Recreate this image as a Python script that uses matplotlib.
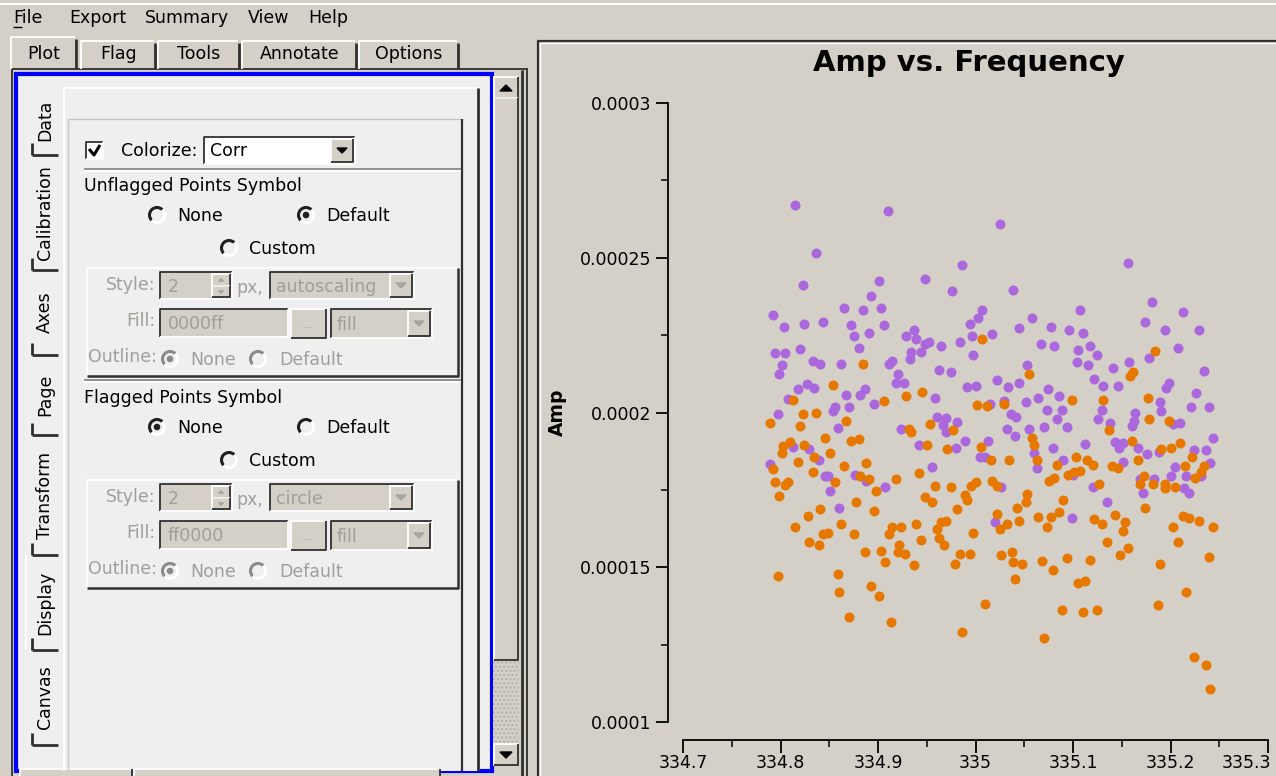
import numpy as np
import matplotlib
matplotlib.use('Agg')
import matplotlib.pyplot as plt
from matplotlib.patches import Rectangle, Arc, Polygon, Circle
from matplotlib.transforms import ScaledTranslation

W, H = 1276, 776

# correlation 1 (purple): frequency [GHz], amplitude [1e-4]
freq_c1 = [334.815, 334.910, 334.836, 334.823, 334.901, 334.893, 334.865, 334.885, 334.903, 334.792,
           334.804, 334.824, 334.844, 334.872, 334.906, 334.875, 334.891, 334.880, 334.794, 334.805,
           334.820, 334.802, 334.798, 334.833, 334.841, 334.862, 334.911, 334.827, 334.834, 334.818,
           334.808, 334.867, 334.882, 334.887, 334.896, 334.856, 334.854, 334.870, 334.797, 334.859,
           334.813, 334.829, 334.839, 334.789, 334.846, 334.849, 334.876, 334.888, 334.851, 334.907,
           334.860, 335.025, 334.986, 334.948, 334.976, 335.038, 335.007, 335.003, 334.994, 335.045,
           334.937, 334.929, 334.939, 334.996, 335.017, 334.952, 334.948, 334.965, 334.984, 334.934,
           334.944, 334.933, 334.914, 334.997, 334.963, 334.975, 334.920, 334.918, 334.927, 335.022,
           335.033, 334.991, 335.001, 335.045, 334.958, 335.015, 335.029, 335.036, 335.042, 334.960,
           334.970, 334.981, 334.967, 334.970, 334.924, 335.032, 335.041, 334.989, 335.013, 334.942,
           334.980, 335.005, 335.010, 334.955, 335.026, 335.020, 335.156, 335.181, 335.107, 335.058,
           335.077, 335.096, 335.110, 335.174, 335.067, 335.081, 335.105, 335.117, 335.125, 335.178,
           335.053, 335.104, 335.115, 335.141, 335.157, 335.122, 335.131, 335.146, 335.074, 335.064,
           335.086, 335.052, 335.073, 335.089, 335.130, 335.084, 335.126, 335.164, 335.163, 335.161,
           335.138, 335.055, 335.070, 335.094, 335.143, 335.151, 335.112, 335.079, 335.167, 335.060,
           335.063, 335.090, 335.100, 335.120, 335.135, 335.099, 335.147, 335.151, 335.176, 335.169,
           335.172, 335.213, 335.194, 335.229, 335.208, 335.234, 335.198, 335.195, 335.226, 335.189,
           335.190, 335.221, 335.239, 335.203, 335.210, 335.244, 335.224, 335.236, 335.188, 335.205,
           335.241, 335.183, 335.200, 335.216, 335.231, 335.214, 335.219]
amp_c1 = [2.669, 2.650, 2.516, 2.411, 2.426, 2.376, 2.338, 2.330, 2.338, 2.315,
          2.277, 2.287, 2.291, 2.283, 2.282, 2.248, 2.258, 2.209, 2.191, 2.191,
          2.205, 2.152, 2.124, 2.167, 2.157, 2.157, 2.157, 2.092, 2.080, 2.076,
          2.043, 2.057, 2.057, 2.076, 2.029, 2.017, 2.006, 2.018, 1.995, 1.951,
          1.890, 1.882, 1.846, 1.833, 1.794, 1.794, 1.799, 1.779, 1.746, 1.760,
          1.693, 2.608, 2.477, 2.430, 2.392, 2.397, 2.330, 2.306, 2.286, 2.273,
          2.266, 2.248, 2.237, 2.248, 2.253, 2.228, 2.221, 2.216, 2.229, 2.196,
          2.196, 2.172, 2.166, 2.187, 2.137, 2.130, 2.126, 2.094, 2.096, 2.104,
          2.084, 2.081, 2.086, 2.094, 2.047, 2.028, 2.038, 1.995, 1.984, 1.984,
          1.982, 1.970, 1.959, 1.937, 1.947, 1.947, 1.925, 1.909, 1.909, 1.895,
          1.885, 1.856, 1.856, 1.823, 1.760, 1.645, 2.483, 2.358, 2.330, 2.306,
          2.277, 2.267, 2.258, 2.291, 2.220, 2.216, 2.201, 2.216, 2.187, 2.176,
          2.152, 2.162, 2.152, 2.143, 2.162, 2.109, 2.086, 2.086, 2.076, 2.047,
          2.052, 2.033, 2.009, 2.009, 2.009, 1.980, 1.980, 2.000, 1.973, 1.956,
          1.967, 1.947, 1.952, 1.952, 1.906, 1.903, 1.898, 1.886, 1.886, 1.870,
          1.821, 1.846, 1.798, 1.760, 1.711, 1.659, 1.884, 1.841, 1.866, 1.784,
          1.741, 2.325, 2.266, 2.266, 2.210, 2.133, 2.096, 2.080, 2.062, 2.034,
          2.005, 2.017, 2.017, 1.962, 1.965, 1.918, 1.878, 1.878, 1.872, 1.823,
          1.836, 1.784, 1.794, 1.794, 1.794, 1.757, 1.741]

# correlation 2 (orange)
freq_c2 = [334.885, 334.854, 334.813, 334.906, 334.823, 334.836, 334.789, 334.820, 334.867, 334.846,
           334.810, 334.803, 334.824, 334.872, 334.880, 334.851, 334.802, 334.818, 334.834, 334.792,
           334.833, 334.865, 334.888, 334.882, 334.891, 334.856, 334.794, 334.805, 334.808, 334.898,
           334.798, 334.877, 334.841, 334.896, 334.828, 334.815, 334.862, 334.844, 334.849, 334.875,
           334.911, 334.914, 334.829, 334.839, 334.887, 334.903, 334.907, 334.797, 334.859, 334.860,
           334.893, 334.901, 334.870, 334.913, 335.007, 334.929, 334.945, 335.002, 335.012, 335.029,
           334.953, 334.932, 334.934, 334.977, 334.950, 334.971, 335.006, 335.016, 335.034, 334.942,
           334.918, 334.958, 334.975, 334.995, 335.001, 335.017, 335.022, 334.948, 334.955, 334.989,
           334.991, 334.981, 335.022, 335.043, 335.045, 334.939, 334.924, 334.960, 334.965, 334.970,
           334.997, 335.025, 335.032, 334.944, 334.963, 334.968, 334.922, 334.920, 334.928, 334.984,
           334.994, 335.026, 335.037, 335.038, 334.937, 334.979, 335.041, 335.010, 334.986, 335.055,
           335.158, 335.162, 335.099, 335.131, 335.177, 335.178, 335.137, 335.058, 335.060, 335.160,
           335.063, 335.103, 335.114, 335.120, 335.084, 335.140, 335.146, 335.167, 335.095, 335.101,
           335.107, 335.075, 335.081, 335.127, 335.173, 335.169, 335.053, 335.052, 335.090, 335.064,
           335.077, 335.086, 335.073, 335.122, 335.130, 335.143, 335.153, 335.151, 335.174, 335.135,
           335.156, 335.148, 335.048, 335.068, 335.094, 335.117, 335.079, 335.105, 335.112, 335.089,
           335.110, 335.125, 335.070, 335.184, 335.198, 335.210, 335.200, 335.190, 335.222, 335.215,
           335.234, 335.231, 335.225, 335.182, 335.194, 335.194, 335.205, 335.213, 335.219, 335.229,
           335.244, 335.203, 335.208, 335.239, 335.189, 335.216, 335.187, 335.224, 335.236, 335.241]
amp_c2 = [2.157, 2.090, 2.042, 2.038, 1.995, 2.000, 1.966, 1.956, 1.971, 1.918,
          1.905, 1.891, 1.895, 1.909, 1.913, 1.870, 1.870, 1.841, 1.857, 1.817,
          1.807, 1.827, 1.836, 1.794, 1.784, 1.774, 1.774, 1.765, 1.774, 1.746,
          1.731, 1.711, 1.688, 1.682, 1.664, 1.631, 1.639, 1.606, 1.611, 1.606,
          1.606, 1.631, 1.582, 1.572, 1.549, 1.553, 1.516, 1.472, 1.477, 1.420,
          1.439, 1.406, 1.339, 1.324, 2.238, 2.052, 2.067, 2.023, 2.022, 2.029,
          1.962, 1.947, 1.936, 1.942, 1.895, 1.882, 1.890, 1.846, 1.846, 1.803,
          1.784, 1.764, 1.760, 1.764, 1.774, 1.779, 1.764, 1.727, 1.711, 1.733,
          1.717, 1.688, 1.673, 1.692, 1.650, 1.639, 1.631, 1.625, 1.645, 1.649,
          1.611, 1.625, 1.640, 1.588, 1.593, 1.572, 1.572, 1.549, 1.543, 1.543,
          1.543, 1.539, 1.549, 1.516, 1.506, 1.510, 1.463, 1.382, 1.290, 2.124,
          2.119, 2.130, 2.042, 2.042, 2.047, 1.980, 1.945, 1.918, 1.894, 1.908,
          1.846, 1.856, 1.846, 1.831, 1.831, 1.827, 1.821, 1.846, 1.798, 1.808,
          1.812, 1.779, 1.789, 1.770, 1.794, 1.770, 1.736, 1.711, 1.717, 1.663,
          1.663, 1.678, 1.630, 1.655, 1.639, 1.668, 1.645, 1.616, 1.692, 1.582,
          1.563, 1.539, 1.510, 1.520, 1.529, 1.525, 1.491, 1.448, 1.457, 1.361,
          1.357, 1.361, 1.271, 2.199, 1.972, 1.903, 1.886, 1.882, 1.855, 1.827,
          1.827, 1.808, 1.789, 1.770, 1.770, 1.757, 1.760, 1.664, 1.658, 1.650,
          1.630, 1.630, 1.582, 1.534, 1.510, 1.420, 1.377, 1.209, 1.185, 1.108]

freq_ticks = [334.7, 334.8, 334.9, 335.0, 335.1, 335.2, 335.3]
freq_labels = ['334.7', '334.8', '334.9', '335', '335.1', '335.2', '335.3']
amp_ticks = [1e-4, 1.5e-4, 2e-4, 2.5e-4, 3e-4]
amp_labels = ['0.0001', '0.00015', '0.0002', '0.00025', '0.0003']

menu_items = [('File', 13), ('Export', 69), ('Summary', 145), ('View', 248), ('Help', 308)]
top_tabs = [('Plot', 10, 78), ('Flag', 80, 157), ('Tools', 157, 241), ('Annotate', 241, 358), ('Options', 358, 460)]
side_tabs = [('Data', 85, 155), ('Calibration', 155, 270), ('Axes', 270, 355), ('Page', 355, 435),
             ('Transform', 435, 555), ('Display', 555, 650), ('Canvas', 650, 745)]

BG = '#d4d0c8'
PANEL = '#efefef'
DARK = '#303030'
SHADE = '#8c8a85'
GREY_TXT = '#a09e9a'
PURPLE = '#ab68dc'
ORANGE = '#e67800'

plt.rcParams['font.family'] = 'DejaVu Sans'

fig = plt.figure(figsize=(W / 100, H / 100), dpi=100)
fig.patch.set_facecolor(BG)
gui = fig.add_axes([0, 0, 1, 1])
gui.set_xlim(0, W)
gui.set_ylim(H, 0)
gui.axis('off')


def box(x0, y0, x1, y1, fc='none', ec='none', lw=1.0, z=1, **kw):
    gui.add_patch(Rectangle((x0, y0), x1 - x0, y1 - y0, facecolor=fc,
                            edgecolor=ec, linewidth=lw, zorder=z, **kw))


def line(xs, ys, c=DARK, lw=1.0, z=3):
    gui.plot(xs, ys, color=c, linewidth=lw, zorder=z, solid_capstyle='butt')


def bevel(x0, y0, x1, y1, sunken=False, fc=None, z=2, lw=1.3):
    if fc:
        box(x0, y0, x1, y1, fc=fc, z=z)
    hi, lo = ('white', DARK) if not sunken else (DARK, 'white')
    line([x0, x0, x1], [y1, y0, y0], hi, lw, z + 0.5)
    line([x0, x1, x1], [y1, y1, y0], lo, lw, z + 0.5)


def label(x, y, s, size=12.5, c='black', ha='left', z=6, **kw):
    gui.text(x, y, s, fontsize=size, color=c, ha=ha, va='center', zorder=z, **kw)


def radio(x, y, on, enabled=True):
    dark = '#202020' if enabled else '#8a8a8a'
    gui.add_patch(Arc((x, y), 15, 15, theta1=135, theta2=315, color=dark, lw=2.2, zorder=5))
    gui.add_patch(Arc((x, y), 15, 15, theta1=315, theta2=495, color='white', lw=2.2, zorder=5))
    if on:
        gui.add_patch(Circle((x, y), 2.6, color=dark, zorder=6))


def arrow_down(cx, cy, c='black', s=5):
    gui.add_patch(Polygon([[cx - s, cy - s / 2], [cx + s, cy - s / 2], [cx, cy + s / 2]],
                          closed=True, color=c, zorder=7))


def arrow_up(cx, cy, c='black', s=5):
    gui.add_patch(Polygon([[cx - s, cy + s / 2], [cx + s, cy + s / 2], [cx, cy - s / 2]],
                          closed=True, color=c, zorder=7))


def combo(x0, y0, x1, y1, text, enabled=True):
    fc = 'white' if enabled else BG
    bevel(x0, y0, x1, y1, sunken=True, fc=fc, z=3)
    bevel(x1 - 24, y0 + 2, x1 - 2, y1 - 2, fc=BG, z=4)
    arrow_down(x1 - 13, (y0 + y1) / 2, c='black' if enabled else '#a8a6a0', s=5)
    label(x0 + 6, (y0 + y1) / 2 + 1, text, c='black' if enabled else GREY_TXT)


# menu bar
box(0, 0, W, 36, fc=BG, z=0)
line([0, W], [4, 4], 'white', 1.5)
for name, x in menu_items:
    label(x, 18, name)
line([13, 22], [27, 27], 'black', 1.0)

# top tab bar
for name, x0, x1 in top_tabs:
    sel = name == 'Plot'
    top = 37 if sel else 41
    box(x0, top, x1, 69, fc=BG, z=1)
    line([x0 + 1, x0 + 1, x1 - 3], [69, top, top], 'white', 1.3, 2)
    line([x1 - 2, x1 - 2], [top + 2, 69], DARK, 2.0, 2)
    label((x0 + x1) / 2, 54, name, ha='center')

# left panel frame
box(12, 69, 527, H + 2, fc=BG, ec=DARK, lw=1.3, z=1)
box(16, 74, 492, 771, fc=PANEL, ec='#0000ff', lw=3.0, z=2)

# side tabs
for name, y0, y1 in side_tabs:
    sel = name == 'Display'
    if sel:
        box(26, y0, 64, y1, fc=PANEL, z=3)
        line([26, 26], [y0, y1], 'white', 1.3, 4)
    line([32, 58], [y1, y1], DARK, 2.0, 4)
    line([32, 32], [y1 - 12, y1], DARK, 2.0, 4)
    label(45, (y0 + y1) / 2, name, ha='center', rotation=90, z=6)

# scrollbar
box(493, 76, 519, 766, fc=BG, z=3)
box(493, 660, 519, 745, fc=BG, ec='#b0aea8', z=3, hatch='....', lw=0)
bevel(494, 77, 518, 98, fc=BG, z=4)
arrow_up(506, 88, s=6)
bevel(494, 98, 518, 660, fc=BG, z=4)
bevel(494, 744, 518, 765, fc=BG, z=4)
arrow_down(506, 755, s=6)
line([522, 522], [70, H], DARK, 2.0)

# inner content area
box(64, 88, 480, 771, fc=PANEL, z=3)
line([64, 64, 478], [771, 88, 88], 'white', 1.3, 4)
line([478, 478], [88, 771], DARK, 2.0, 4)
line([68, 68, 462], [771, 119, 119], '#c8c6c0', 1.0, 4)
line([462, 462], [119, 771], DARK, 1.6, 4)

# colorize row
bevel(86, 142, 103, 159, sunken=True, fc='white', z=5)
line([89, 94, 100], [149, 155, 145], 'black', 2.2, 6)
label(121, 151, 'Colorize:')
combo(204, 137, 355, 164, 'Corr')
line([84, 461], [169, 169], SHADE, 1.3, 5)
line([84, 461], [171, 171], 'white', 1.3, 5)


def symbol_section(y, title, default_on, style_text, fill_text):
    label(84, y, title)
    radio(157, y + 29, not default_on)
    label(177, y + 30, 'None')
    radio(306, y + 29, default_on)
    label(326, y + 30, 'Default')
    radio(229, y + 62, False)
    label(249, y + 63, 'Custom')
    g0 = y + 82
    line([87, 87, 458], [g0 + 108, g0, g0], 'white', 1.3, 5)
    line([87, 458, 458], [g0 + 108, g0 + 108, g0], DARK, 1.8, 5)
    label(155, g0 + 17, 'Style:', c=GREY_TXT, ha='right')
    bevel(160, g0 + 4, 232, g0 + 31, sunken=True, fc=BG, z=5)
    label(168, g0 + 19, '2', c=GREY_TXT)
    bevel(212, g0 + 6, 230, g0 + 18, fc=BG, z=6)
    bevel(212, g0 + 18, 230, g0 + 29, fc=BG, z=6)
    arrow_up(221, g0 + 12, c='#a8a6a0', s=2.5)
    arrow_down(221, g0 + 24, c='#a8a6a0', s=2.5)
    label(236, g0 + 20, 'px,', c=GREY_TXT)
    combo(270, g0 + 4, 414, g0 + 31, style_text, enabled=False)
    label(155, g0 + 53, 'Fill:', c=GREY_TXT, ha='right')
    bevel(160, g0 + 41, 288, g0 + 69, sunken=True, fc=BG, z=5)
    label(168, g0 + 56, fill_text, c=GREY_TXT)
    bevel(291, g0 + 41, 326, g0 + 70, fc=BG, z=5)
    label(308, g0 + 57, '...', c=GREY_TXT, ha='center', size=9)
    combo(331, g0 + 41, 432, g0 + 70, 'fill', enabled=False)
    label(88, g0 + 89, 'Outline:', c=GREY_TXT)
    radio(170, g0 + 91, True, enabled=False)
    label(190, g0 + 92, 'None', c=GREY_TXT)
    radio(258, g0 + 91, False, enabled=False)
    label(279, g0 + 92, 'Default', c=GREY_TXT)


symbol_section(186, 'Unflagged Points Symbol', True, 'autoscaling', '0000ff')
line([84, 461], [380, 380], SHADE, 1.3, 5)
line([84, 461], [382, 382], 'white', 1.3, 5)
symbol_section(398, 'Flagged Points Symbol', False, 'circle', 'ff0000')

# bottom strip under the left panel
bevel(20, 769, 132, H + 4, fc=BG, z=3)
bevel(134, 769, 440, H + 4, fc=BG, z=3)

# plot canvas panel
box(537, 40, W + 2, H + 2, fc=BG, ec='none', z=1)
line([538, 538, W], [H, 41, 41], DARK, 1.6, 2)
line([540, 540, W], [H, 43, 43], 'white', 1.0, 2)

gui.text(969, 63, 'Amp vs. Frequency', fontsize=21, fontweight='bold',
         ha='center', va='center', zorder=6)
gui.text(557, 412, 'Amp', fontsize=13.5, fontweight='bold', rotation=90,
         ha='center', va='center', zorder=6)

ax = fig.add_axes([683 / W, 1 - 722 / H, 585 / W, 619 / H])
ax.set_facecolor('none')
ax.scatter(freq_c1, np.array(amp_c1) * 1e-4, s=52, c=PURPLE, linewidths=0, zorder=3)
ax.scatter(freq_c2, np.array(amp_c2) * 1e-4, s=52, c=ORANGE, linewidths=0, zorder=4)
ax.set_xlim(334.7, 335.3)
ax.set_ylim(1e-4, 3e-4)
for side in ('top', 'right'):
    ax.spines[side].set_visible(False)
ax.spines['left'].set_position(('outward', 10.8))
ax.spines['left'].set_bounds(1e-4, 3e-4)
ax.spines['bottom'].set_position(('outward', 13))
ax.spines['bottom'].set_bounds(334.7, 335.3)
for sp in ax.spines.values():
    sp.set_linewidth(1.3)
    sp.set_color('black')
ax.set_xticks(freq_ticks)
ax.set_xticklabels(freq_labels)
ax.set_yticks(amp_ticks)
ax.set_yticklabels(amp_labels)
ax.set_xticks([334.75, 334.85, 334.95, 335.05, 335.15, 335.25], minor=True)
ax.set_yticks([1.25e-4, 1.75e-4, 2.25e-4, 2.75e-4], minor=True)
ax.tick_params(which='major', direction='out', length=9, width=1.3, labelsize=12.5, pad=3)
ax.tick_params(axis='x', which='major', pad=1)
ax.tick_params(which='minor', direction='out', length=5, width=1.1)

# keep the last frequency label inside the canvas
last = ax.get_xticklabels()[-1]
last.set_transform(last.get_transform() + ScaledTranslation(-0.22, 0, fig.dpi_scale_trans))

fig.savefig('out.png', dpi=100, facecolor=BG)
